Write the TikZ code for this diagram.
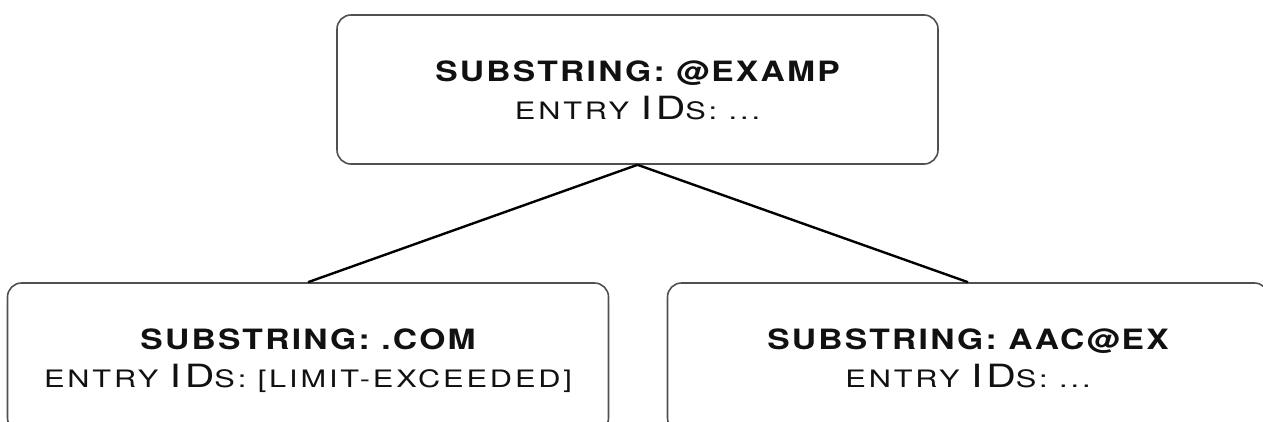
\documentclass[tikz,border=0pt]{standalone}
\usepackage{fontspec}
\newfontfamily\cpfont[FakeStretch=1.28,LetterSpace=12]{TeX Gyre Heros}
\newfontfamily\cpbold[FakeStretch=1.2,LetterSpace=8,UprightFont=* Bold]{TeX Gyre Heros}
\newcommand\smc[1]{{\fontsize{24}{26}\selectfont #1}}
\newcommand\bgc[1]{{\fontsize{32}{34}\selectfont #1}}
\definecolor{boxline}{HTML}{505050}
\definecolor{txt}{HTML}{111111}
\tikzset{
  treebox/.style={draw=boxline, line width=1.6pt, rounded corners=14pt,
    rectangle, minimum width=601pt, minimum height=149pt, inner sep=0pt},
  headtext/.style={anchor=base, inner sep=0pt, text=txt,
    font=\cpbold\fontsize{28}{30}\selectfont},
  idtext/.style={anchor=base, inner sep=0pt, text=txt, font=\cpfont},
  edge/.style={draw=black, line width=2.4pt}
}
\begin{document}
\begin{tikzpicture}[x=1pt,y=-1pt]
\useasboundingbox (0,0) rectangle (1263,421);
\clip (0,0) rectangle (1263,421);
\node[treebox] (root) at (637.5,89.5) {};
\node[treebox] (left) at (308,357.5) {};
\node[treebox] (right) at (968,357.5) {};
\draw[edge] (root.south) -- (left.north);
\draw[edge] (root.south) -- (right.north);
\node[headtext] (roothead) at ([yshift=-67pt]root.north) {SUBSTRING: @EXAMP};
\node[idtext] (rootids) at ([yshift=-105pt]root.north) {\smc{ENTRY }\bgc{ID}\smc{S: ...}};
\node[headtext] (lefthead) at ([yshift=-67pt]left.north) {SUBSTRING: .COM};
\node[idtext] (leftids) at ([yshift=-105pt]left.north) {\smc{ENTRY }\bgc{ID}\smc{S: [LIMIT-EXCEEDED]}};
\node[headtext] (righthead) at ([yshift=-67pt]right.north) {SUBSTRING: AAC@EX};
\node[idtext] (rightids) at ([yshift=-105pt]right.north) {\smc{ENTRY }\bgc{ID}\smc{S: ...}};
\end{tikzpicture}
\end{document}
